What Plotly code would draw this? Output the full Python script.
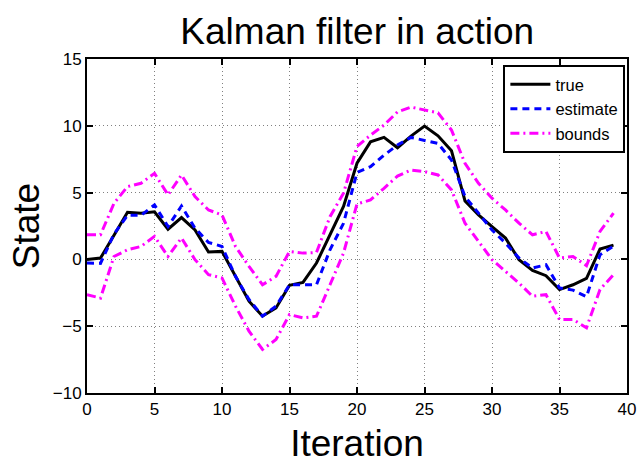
import plotly.graph_objects as go

iteration = list(range(40))
true_state = [0.0, 0.1, 1.8, 3.53, 3.46, 3.56, 2.26, 3.13, 2.2, 0.55,
              0.6, -1.27, -3.13, -4.25, -3.63, -1.94, -1.72, -0.27, 1.84, 3.96,
              7.2, 8.8, 9.13, 8.36, 9.23, 9.98, 9.25, 8.13, 4.38, 3.33,
              2.46, 1.6, -0.03, -0.82, -1.22, -2.26, -1.9, -1.42, 0.77, 1.07]
estimate = [-0.27, -0.3, 1.9, 3.3, 3.3, 4.08, 2.46, 4.0, 2.34, 1.27,
            0.97, -1.27, -3.0, -4.25, -3.5, -1.9, -1.9, -1.9, 0.72, 2.7,
            6.5, 6.94, 7.8, 8.56, 9.13, 8.93, 8.68, 7.44, 4.7, 3.46,
            2.2, 1.22, 0.1, -0.65, -0.4, -2.14, -2.3, -2.8, 0.35, 1.0]
upper = [1.84, 1.84, 4.2, 5.45, 5.7, 6.44, 4.83, 6.32, 4.7, 3.7,
         3.33, 0.97, -0.52, -1.9, -1.27, 0.6, 0.47, 0.52, 3.2, 4.95,
         8.45, 9.3, 10.05, 11.04, 11.4, 11.17, 10.97, 9.68, 7.19, 5.7,
         4.58, 3.7, 2.71, 1.84, 2.09, 0.1, 0.22, -0.47, 2.09, 3.46]
lower = [-2.64, -2.9, 0.22, 0.72, 0.97, 1.72, 0.22, 1.6, -0.02, -1.14,
         -1.39, -3.5, -5.37, -6.74, -6.0, -4.13, -4.38, -4.25, -1.9, 0.47,
         4.15, 4.45, 5.32, 6.24, 6.69, 6.57, 6.32, 5.2, 2.71, 1.34,
         -0.02, -0.9, -1.77, -2.76, -2.64, -4.5, -4.5, -5.12, -2.26, -1.14]

xticks = [0, 5, 10, 15, 20, 25, 30, 35, 40]
yticks = [-10, -5, 0, 5, 10, 15]

FONT = "Liberation Sans, Arial, sans-serif"

fig = go.Figure()
fig.add_trace(go.Scatter(x=iteration, y=true_state, mode="lines", name="true",
                         line=dict(color="black", width=3)))
fig.add_trace(go.Scatter(x=iteration, y=estimate, mode="lines", name="estimate",
                         line=dict(color="#0000ff", width=3, dash="7px,5px")))
fig.add_trace(go.Scatter(x=iteration, y=upper, mode="lines", name="bounds",
                         legendgroup="b",
                         line=dict(color="#ff00ff", width=3, dash="9px,4px,2px,4px")))
fig.add_trace(go.Scatter(x=iteration, y=lower, mode="lines", name="bounds",
                         legendgroup="b", showlegend=False,
                         line=dict(color="#ff00ff", width=3, dash="9px,4px,2px,4px")))

axis_common = dict(showline=True, linecolor="black", linewidth=2, mirror="ticks",
                   ticks="inside", ticklen=6, tickwidth=1.5, tickcolor="black",
                   showgrid=True, gridcolor="#808080", griddash="1px,3px", gridwidth=1,
                   zeroline=False, automargin=False,
                   tickfont=dict(family=FONT, size=17, color="black"))

fig.update_layout(
    width=639, height=464,
    paper_bgcolor="white", plot_bgcolor="white",
    margin=dict(l=87, r=11.5, t=59, b=70.7, autoexpand=False),
    title=dict(text="Kalman filter in action", x=0.559, xanchor="center",
               y=1 - 31 / 464, yanchor="middle",
               font=dict(family=FONT, size=37, color="black")),
    xaxis=dict(range=[0, 40], tickvals=xticks,
               title=dict(text="Iteration", font=dict(family=FONT, size=37, color="black"),
                          standoff=17),
               **axis_common),
    yaxis=dict(range=[-10, 15], tickvals=yticks,
               title=dict(text="State", font=dict(family=FONT, size=37, color="black"),
                          standoff=2),
               **axis_common),
    legend=dict(x=0.997, xanchor="right", y=0.982, yanchor="top",
                bgcolor="white", bordercolor="black", borderwidth=2,
                font=dict(family=FONT, size=16.5, color="black"),
                tracegroupgap=0, itemwidth=40),
    showlegend=True,
)

fig.write_html("out.html", config={"displayModeBar": False},
               post_script="document.body.style.margin='0px';")
